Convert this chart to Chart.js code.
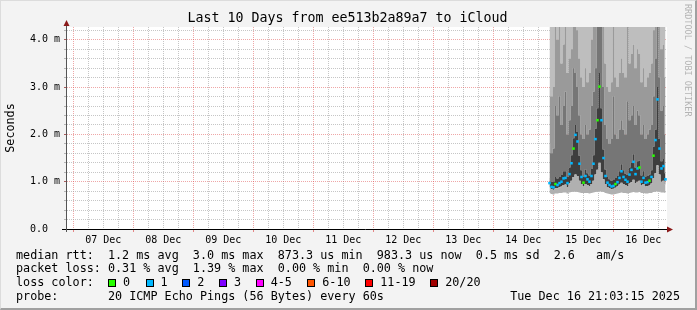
<!DOCTYPE html>
<html><head><meta charset="utf-8">
<script src="https://cdn.jsdelivr.net/npm/chart.js@4/dist/chart.umd.min.js"></script>
<style>
html,body{margin:0;padding:0;background:#f3f3f3;}
#wrap{position:relative;width:697px;height:310px;overflow:hidden;background:#f3f3f3;font-family:"DejaVu Sans Mono",monospace;}
#c{position:absolute;left:0;top:0;width:697px;height:310px;}
.t{position:absolute;font-size:11.75px;line-height:14px;white-space:pre;color:#000;}
.box{position:absolute;width:6px;height:6px;border:1px solid #000;top:279px;}
#rrd{position:absolute;left:683px;top:4px;writing-mode:vertical-rl;font-size:8.5px;line-height:10px;color:#b4b4b4;white-space:pre;}
#frame{position:absolute;left:0;top:0;width:697px;height:310px;box-sizing:border-box;border-top:1px solid #dcdcdc;border-left:1px solid #dcdcdc;border-right:2px solid #a0a0a0;border-bottom:2px solid #a0a0a0;pointer-events:none;}
</style></head>
<body>
<div id="wrap">
<canvas id="c" width="697" height="310"></canvas>
<div id="rrd">RRDTOOL / TOBI OETIKER</div>
<div class="t" style="left:16px;top:248px">median rtt:  1.2 ms avg  3.0 ms max  873.3 us min  983.3 us now  0.5 ms sd  2.6   am/s</div>
<div class="t" style="left:16px;top:261px">packet loss: 0.31 % avg  1.39 % max  0.00 % min  0.00 % now</div>
<div class="t" style="left:16px;top:275px">loss color:</div>
<div id="legend"></div>
<div class="t" style="left:16px;top:289px">probe:       20 ICMP Echo Pings (56 Bytes) every 60s</div>
<div class="t" style="right:17px;top:289px">Tue Dec 16 21:03:15 2025</div>
<div id="frame"></div>
</div>
<script>
// ---- data ----
const dayLabels = ['07 Dec','08 Dec','09 Dec','10 Dec','11 Dec','12 Dec','13 Dec','14 Dec','15 Dec','16 Dec'];
const yTickValues = [0,0.2,0.4,0.6,0.8,1,1.2,1.4,1.6,1.8,2,2.2,2.4,2.6,2.8,3,3.2,3.4,3.6,3.8,4,4.2];
const yTickLabels = ['0.0  ','1.0 m','2.0 m','3.0 m','4.0 m'];
const lossNames  = ['0','1','2','3','4-5','6-10','11-19','20/20'];
const lossColors = ['#26ff00','#00b8ff','#0059ff','#7e00ff','#ff00ff','#ff5500','#ff0000','#a10000'];
const lossBoxX   = [108,145.5,182.3,219,255.7,307.3,365.3,430.2];

// hours since 07 Dec 00:00, one slot every 0.8 h
const smokeStart = 190.47, smokeStep = 0.8;
// median rtt (ms)
const median = [0.97,0.89,0.88,0.95,0.93,0.97,1.00,1.07,1.08,0.97,1.16,1.39,1.70,1.99,1.85,1.38,1.10,0.98,1.12,1.05,
1.00,1.12,1.38,1.90,2.30,3.01,2.30,1.50,1.12,0.98,0.93,0.90,0.91,0.95,0.99,1.08,1.22,1.10,1.04,1.00,
1.15,1.25,1.42,1.16,1.28,1.30,1.00,1.08,0.98,0.99,1.02,1.10,1.55,1.88,2.74,1.70,1.28,1.33,1.05];
// lost pings per slot (index into lossColors)
const loss = [1,1,1,0,1,1,1,1,1,1,1,1,0,1,1,1,1,0,1,1,
1,1,1,1,0,0,1,1,1,1,1,1,1,0,1,1,1,1,1,1,
1,1,1,1,1,0,1,1,1,1,0,1,0,1,1,1,1,1,1];
// smoke boundaries (ms)
const pingMin = [0.76,0.74,0.73,0.75,0.75,0.76,0.76,0.77,0.77,0.75,0.77,0.78,0.79,0.79,0.78,0.77,0.76,0.76,0.76,0.76,
0.75,0.76,0.77,0.78,0.79,0.80,0.79,0.78,0.76,0.75,0.74,0.73,0.73,0.74,0.75,0.76,0.77,0.76,0.76,0.75,
0.76,0.77,0.78,0.77,0.77,0.78,0.76,0.76,0.75,0.75,0.76,0.76,0.78,0.79,0.80,0.79,0.77,0.77,0.76];
const pingLow = [0.88,0.84,0.83,0.86,0.86,0.88,0.90,0.93,0.94,0.89,0.96,1.02,1.10,1.15,1.12,1.02,0.95,0.90,0.95,0.93,
0.91,0.95,1.02,1.15,1.25,1.40,1.20,1.05,0.95,0.89,0.86,0.84,0.85,0.87,0.90,0.94,0.98,0.95,0.93,0.91,
0.96,0.99,1.04,0.97,1.00,1.02,0.92,0.95,0.90,0.91,0.92,0.96,1.08,1.18,1.35,1.15,1.00,1.02,0.94];
const pingHi1 = [1.08,1.00,1.00,1.10,1.07,1.10,1.14,1.22,1.22,1.10,1.30,1.56,1.92,2.20,2.05,1.55,1.24,1.11,1.26,1.18,
1.13,1.27,1.56,2.12,2.55,3.30,2.55,1.68,1.26,1.10,1.05,1.02,1.04,1.08,1.12,1.22,1.37,1.24,1.17,1.14,
1.30,1.40,1.58,1.30,1.43,1.45,1.13,1.22,1.11,1.12,1.15,1.24,1.74,2.10,3.00,1.90,1.43,1.48,1.18];
const pingHi2 = [1.8,1.6,1.7,2.6,2.4,2.8,2.2,2.6,2.9,2.0,2.3,2.6,3.4,3.3,3.0,2.4,2.0,1.9,2.2,2.0,
2.1,2.6,2.9,3.4,4.5,5.0,4.4,3.0,2.2,1.9,1.8,1.9,2.8,2.0,1.9,2.1,2.3,2.1,2.0,2.7,
2.3,2.4,2.6,2.2,2.5,2.4,2.0,2.2,1.9,2.0,2.1,2.2,2.8,3.6,4.6,3.2,2.5,2.6,2.0];
const pingHi3 = [3.0,2.8,3.0,4.5,4.0,4.6,3.5,3.9,4.4,3.3,3.6,3.8,4.8,4.6,4.2,3.6,3.2,3.0,3.4,3.1,
3.3,4.0,4.4,4.8,5.0,5.0,5.0,4.4,3.5,3.0,2.9,3.1,4.5,3.2,3.0,3.3,3.6,3.3,3.2,4.4,
3.5,3.7,3.9,3.4,3.8,3.7,3.1,3.4,3.0,3.2,3.3,3.5,4.2,4.8,5.0,4.6,3.8,3.9,3.2];

// ---- legend boxes ----
const lg = document.getElementById('legend');
lossNames.forEach((n,i)=>{
  const b=document.createElement('div'); b.className='box'; b.style.left=lossBoxX[i]+'px'; b.style.background=lossColors[i]; lg.appendChild(b);
  const t=document.createElement('div'); t.className='t'; t.style.left=(lossBoxX[i]+15)+'px'; t.style.top='275px'; t.textContent=n; lg.appendChild(t);
});

const times = median.map((_,i)=>smokeStart+smokeStep*i);
const pts = arr => arr.map((v,i)=>({x:times[i],y:v}));
const band = (arr,fill,color)=>({data:pts(arr),fill:fill,backgroundColor:color,borderWidth:0,pointRadius:0,stepped:'middle',order:2});

const rrdPlugin = {
  id:'rrd',
  beforeDraw(chart){
    const {ctx,chartArea:a}=chart;
    ctx.save(); ctx.fillStyle='#ffffff'; ctx.fillRect(a.left,a.top,a.right-a.left,a.bottom-a.top); ctx.restore();
  },
  afterDraw(chart){
    const {ctx,chartArea:a}=chart;
    const L=Math.round(a.left), B=Math.round(a.bottom), R=Math.round(a.right), T=Math.round(a.top);
    ctx.save();
    ctx.lineWidth=1;
    ctx.strokeStyle='#000';
    ctx.beginPath(); ctx.moveTo(L-5,B+0.5); ctx.lineTo(R+2,B+0.5); ctx.stroke();
    ctx.strokeStyle='#555';
    ctx.beginPath(); ctx.moveTo(L-0.5,B+3); ctx.lineTo(L-0.5,T-3); ctx.stroke();
    ctx.fillStyle='#8b1a1a';
    ctx.beginPath(); ctx.moveTo(L-0.5,T-7); ctx.lineTo(L-3.5,T-1); ctx.lineTo(L+2.5,T-1); ctx.closePath(); ctx.fill();
    ctx.beginPath(); ctx.moveTo(R+6,B+0.5); ctx.lineTo(R,B-2.5); ctx.lineTo(R,B+3.5); ctx.closePath(); ctx.fill();
    ctx.restore();
  }
};

const isInt = v => Math.abs(v-Math.round(v))<1e-6;
const font10 = {family:'DejaVu Sans Mono',size:10};

new Chart(document.getElementById('c'),{
  type:'line',
  data:{datasets:[
    band(pingMin,false,'rgba(0,0,0,0)'),
    band(pingLow,'-1','#b0b0b0'),
    band(pingHi1,'-1','#3e3e3e'),
    band(pingHi2,'-1','#767676'),
    band(pingHi3,'-1','#9a9a9a'),
    band(pingHi3,'end','#bebebe'),
    {data:pts(median),showLine:false,pointStyle:'rect',pointRadius:1.8,pointBorderWidth:0,
     pointBackgroundColor:loss.map(l=>lossColors[l]),order:1}
  ]},
  options:{
    responsive:false,animation:false,devicePixelRatio:1,
    layout:{padding:{left:28,right:30,top:0,bottom:61}},
    plugins:{legend:{display:false},tooltip:{enabled:false},
      title:{display:true,text:'Last 10 Days from ee513b2a89a7 to iCloud',color:'#000',
        font:{family:'DejaVu Sans Mono',size:13.3,weight:'normal',lineHeight:'16px'},padding:{top:11,bottom:0}}},
    scales:{
      x:{type:'linear',min:-2.53,max:237.47,z:1,
        afterBuildTicks(s){const t=[];for(let h=0;h<=234;h+=6)t.push({value:h});s.ticks=t;},
        afterFit(s){s.height=20;},
        ticks:{autoSkip:false,maxRotation:0,padding:2,color:'#000',font:font10,
          callback(v){return (v%24===12)?dayLabels[(v-12)/24]:'';}},
        grid:{lineWidth:1,tickLength:3,
          color:c=>(c.tick&&c.tick.value%24===0)?'rgba(220,60,60,0.45)':'rgba(160,160,160,0.6)',
          tickColor:c=>(c.tick&&c.tick.value%24===0)?'rgba(220,60,60,0.6)':'rgba(0,0,0,0)'},
        border:{display:false,dash:[1,1]}
      },
      y:{type:'linear',min:0,max:4.27,z:1,
        afterBuildTicks(s){s.ticks=yTickValues.map(v=>({value:v}));},
        afterFit(s){s.width=39;},
        title:{display:true,text:'Seconds',color:'#000',font:{family:'DejaVu Sans Mono',size:11.75},padding:{top:-24,bottom:0}},
        ticks:{autoSkip:false,padding:4,color:'#000',font:font10,
          callback(v){return isInt(v)?yTickLabels[Math.round(v)]:'';}},
        grid:{lineWidth:1,tickLength:3,
          color:c=>{const v=c.tick?c.tick.value:0; if(v===0)return 'rgba(0,0,0,0)'; return isInt(v)?'rgba(220,60,60,0.45)':'rgba(160,160,160,0.6)';},
          tickColor:c=>{const v=c.tick?c.tick.value:0; return isInt(v)?'rgba(140,30,30,0.7)':'rgba(120,120,120,0.5)';}},
        border:{display:false,dash:[1,1]}
      }
    }
  },
  plugins:[rrdPlugin]
});
</script>
</body></html>
